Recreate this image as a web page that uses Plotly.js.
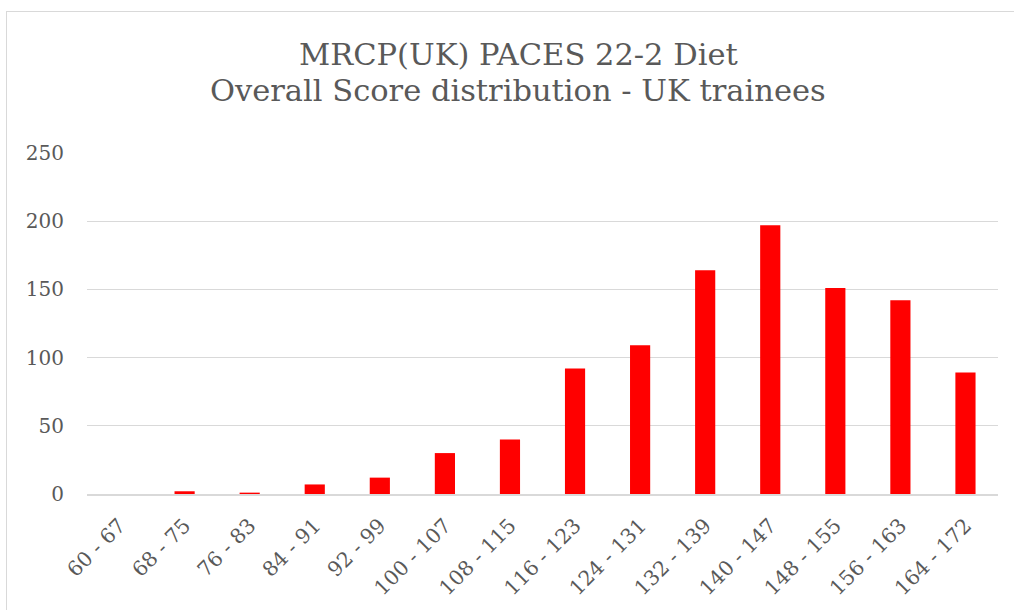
<!DOCTYPE html>
<html>
<head>
<meta charset="utf-8">
<script src="https://cdn.plot.ly/plotly-3.0.1.min.js"></script>
<style>
html,body{margin:0;padding:0;background:#fff;overflow:hidden;}
#frame{position:absolute;left:6px;top:11px;width:1100px;height:700px;border:1.5px solid #d9d9d9;box-sizing:border-box;pointer-events:none;z-index:2;}
#chart{position:absolute;left:0;top:0;width:1014px;height:610px;}
</style>
</head>
<body>
<div id="chart"></div>
<div id="frame"></div>
<script>
const categories = ["60 - 67","68 - 75","76 - 83","84 - 91","92 - 99","100 - 107","108 - 115","116 - 123","124 - 131","132 - 139","140 - 147","148 - 155","156 - 163","164 - 172"];
const counts = [0, 2, 1, 7, 12, 30, 40, 92, 109, 164, 197, 151, 142, 89];
const yTicks = [0, 50, 100, 150, 200, 250];
const titleLines = ["MRCP(UK) PACES 22-2 Diet", "Overall Score distribution - UK trainees"];

const fontFam = "'DejaVu Serif', 'Liberation Serif', serif";
const plotLeft = 87, plotRight = 998, plotTop = 153, plotBottom = 494;
function paperY(py){ return (plotBottom - py) / (plotBottom - plotTop); }
function paperX(px){ return (px - plotLeft) / (plotRight - plotLeft); }

Plotly.newPlot('chart', [{
  type: 'bar',
  x: categories,
  y: counts,
  marker: {color: '#ff0000'},
  hoverinfo: 'x+y'
}], {
  width: 1014,
  height: 610,
  margin: {l: 87, r: 16, t: 153, b: 116},
  paper_bgcolor: '#ffffff',
  plot_bgcolor: '#ffffff',
  bargap: 0.69,
  showlegend: false,
  annotations: [
    {text: titleLines[0], xref: 'paper', yref: 'paper', x: paperX(518), y: paperY(54), xanchor: 'center', yanchor: 'middle', showarrow: false,
     font: {family: fontFam, size: 30.5, color: '#595959'}},
    {text: titleLines[1], xref: 'paper', yref: 'paper', x: paperX(518), y: paperY(91), xanchor: 'center', yanchor: 'middle', showarrow: false,
     font: {family: fontFam, size: 30.5, color: '#595959'}}
  ],
  xaxis: {
    type: 'category',
    tickangle: -45,
    tickfont: {family: fontFam, size: 20.5, color: '#595959'},
    showgrid: false,
    showline: true,
    linecolor: '#d9d9d9',
    linewidth: 1.5,
    ticks: '',
    ticklabelstandoff: 10
  },
  yaxis: {
    range: [0, 250],
    tickvals: yTicks,
    ticktext: yTicks.map(String),
    tickfont: {family: fontFam, size: 20, color: '#595959'},
    showgrid: true,
    gridcolor: '#d9d9d9',
    gridwidth: 1.2,
    zeroline: false,
    showline: false,
    ticks: '',
    ticklabelstandoff: 22
  }
}, {displayModeBar: false, staticPlot: true});
</script>
</body>
</html>
